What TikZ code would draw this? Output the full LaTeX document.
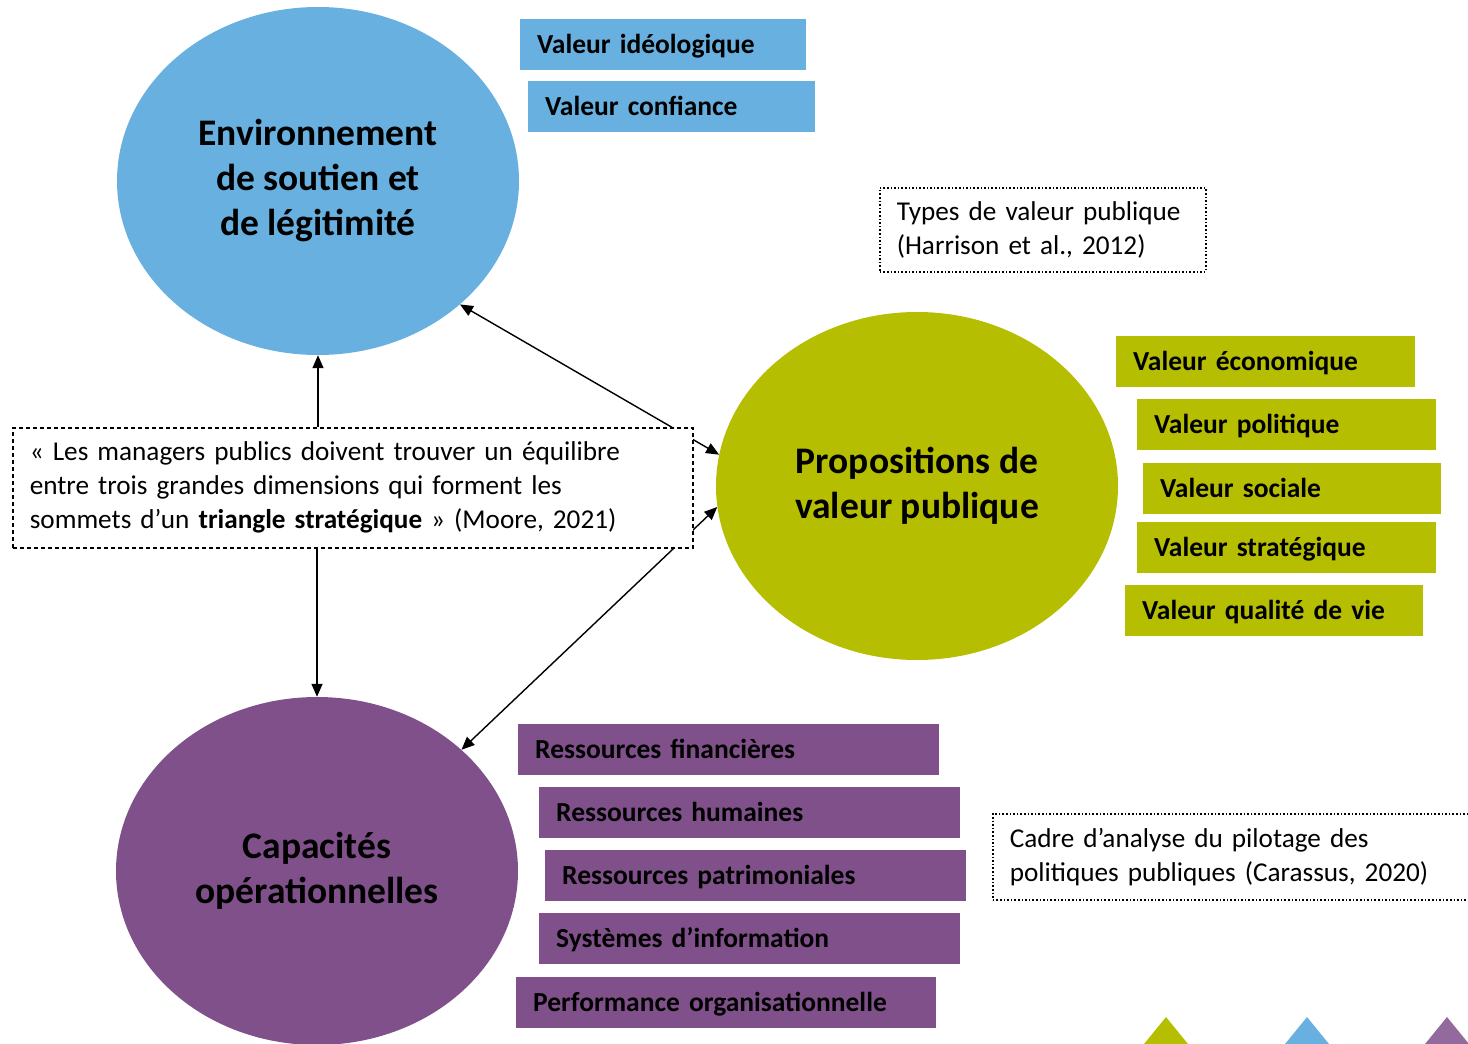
\documentclass[tikz,border=0pt]{standalone}
\usepackage{fontspec}
\setmainfont{Carlito}
\usetikzlibrary{shapes.geometric,arrows.meta}
\definecolor{cblue}{RGB}{103,176,224}
\definecolor{cgreen}{RGB}{181,190,0}
\definecolor{cpurple}{RGB}{128,80,138}
\begin{document}
\begin{tikzpicture}[x=1pt, y=-1pt,
    pole/.style={ellipse, inner sep=0pt, minimum width=402pt, minimum height=348pt,
        align=center, font=\bfseries\fontsize{37.5}{45}\selectfont},
    tag/.style={anchor=west, inner xsep=17pt, inner ysep=0pt, minimum height=51pt,
        text height=21pt, text depth=3pt,
        text width=#1, align=left, font=\bfseries\fontsize{27.5}{30}\selectfont},
    note/.style={draw, anchor=north west, inner xsep=17pt, inner ysep=0pt,
        align=left, font=\fontsize{27.2}{34}\selectfont},
    link/.style={line width=1.4pt, {Triangle[length=13pt,width=11pt]}-{Triangle[length=13pt,width=11pt]}},
    push/.style={line width=1.4pt, -{Triangle[length=13pt,width=11pt]}}]
    \useasboundingbox (0,0) rectangle (1468,1044);

    \node[pole, fill=cblue] (env) at (318,181) {Environnement\\de soutien et\\de légitimité};
    \node[pole, fill=cgreen] (prop) at (917,486) {Propositions de\\valeur publique};
    \node[pole, fill=cpurple] (capa) at (317,871) {Capacités\\opérationnelles};

    \node[tag=252pt, fill=cblue] (ideo) at (520,44) {Valeur idéologique};
    \node[tag=253pt, fill=cblue] (conf) at (528,106) {Valeur confiance};

    \node[tag=265pt, fill=cgreen] (eco) at (1116,361) {Valeur économique};
    \node[tag=265pt, fill=cgreen] (poli) at (1137,424) {Valeur politique};
    \node[tag=264pt, fill=cgreen] (soc) at (1143,488) {Valeur sociale};
    \node[tag=265pt, fill=cgreen] (strat) at (1137,547) {Valeur stratégique};
    \node[tag=264pt, fill=cgreen] (vie) at (1125,610) {Valeur qualité de vie};

    \node[tag=387pt, fill=cpurple] (fin) at (518,749) {Ressources financières};
    \node[tag=387pt, fill=cpurple] (hum) at (539,812) {Ressources humaines};
    \node[tag=387pt, fill=cpurple] (patr) at (545,875) {Ressources patrimoniales};
    \node[tag=387pt, fill=cpurple] (sysi) at (539,938) {Systèmes d’information};
    \node[tag=386pt, fill=cpurple] (perf) at (516,1002) {Performance organisationnelle};

    \draw[link] (env.-41) -- (prop.171);
    \draw[link] (prop.186) -- (capa.40);

    \node[note, dashed, line width=1.6pt, dash pattern=on 4pt off 3pt, fill=white,
        minimum width=680pt, minimum height=120pt, text width=646pt] (quote) at (12,427)
        {« Les managers publics doivent trouver un équilibre\\
         entre trois grandes dimensions qui forment les\\
         sommets d’un \textbf{triangle stratégique} » (Moore, 2021)};
    \draw[push] (quote.north -| env.south) -- (env.south);
    \draw[push] (quote.south -| capa.north) -- (capa.north);

    \node[note, dotted, line width=1.6pt, minimum width=326pt, minimum height=84pt,
        text width=292pt] (harr) at (879,187)
        {Types de valeur publique\\(Harrison et al., 2012)};
    \node[note, dotted, line width=1.6pt, minimum width=490pt, minimum height=86pt,
        text width=456pt] (cara) at (992,813)
        {Cadre d’analyse du pilotage des\\politiques publiques (Carassus, 2020)};

    \fill[cgreen] (1166,1017) -- (1201,1060) -- (1131,1060) -- cycle;
    \fill[cblue] (1307,1017) -- (1342,1060) -- (1272,1060) -- cycle;
    \fill[cpurple!85!white] (1447,1017) -- (1482,1060) -- (1412,1060) -- cycle;
\end{tikzpicture}
\end{document}
